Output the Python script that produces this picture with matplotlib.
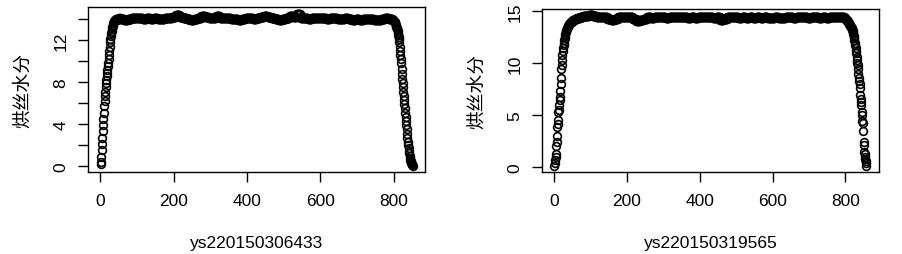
"""Two R-style scatter panels of 烘丝水分 along the batch index."""
import matplotlib
matplotlib.use("Agg")
import matplotlib.pyplot as plt
import numpy as np

plt.rcParams["font.family"] = ["Liberation Sans", "Noto Sans CJK SC", "DejaVu Sans"]

# --- data ----------------------------------------------------------------
# left batch: rise, plateau (levels held over runs of 10 points), fall
left_name = "ys220150306433"
left_rise = [0.2, 0.4, 0.9, 1.5, 2.1, 2.7, 3.3, 3.9, 4.5, 5.1, 5.7, 6.2, 6.7,
             7.1, 7.5, 7.9, 8.2, 8.6, 8.9, 9.2, 9.5, 9.8, 10.2, 10.6, 11.0,
             11.4, 11.8, 12.1, 12.4, 12.7, 12.9, 13.1, 13.3, 13.4, 13.5, 13.6,
             13.7, 13.8, 13.8, 13.9, 13.9, 13.9, 14.0, 14.0, 14.0, 14.0, 13.9,
             14.0, 14.0, 14.1, 14.0, 14.0, 14.0, 14.1, 14.1]
left_plateau = [14.0, 13.95, 14.05, 14.15, 14.1, 14.1, 14.05, 14.1, 14.0, 14.1,
                14.05, 14.0, 14.1, 14.15, 14.2, 14.45, 14.2, 14.1, 14.0, 13.9,
                14.05, 14.1, 14.3, 14.2, 14.1, 14.15, 14.3, 14.15, 14.1, 14.1,
                14.05, 14.0, 13.9, 14.0, 14.1, 14.1, 14.05, 14.1, 14.2, 14.35,
                14.2, 14.1, 14.0, 13.9, 14.0, 14.15, 14.3, 14.25, 14.55, 14.1,
                14.1, 14.05, 14.1, 14.15, 14.1, 14.1, 14.05, 14.1, 14.1, 14.05,
                14.0, 14.1, 14.0, 13.95, 14.0, 13.95, 14.0, 14.05, 14.0, 13.95,
                13.9, 14.0, 14.1, 14.05]
left_fall = [14.0, 13.95, 13.9, 13.9, 13.85, 13.8, 13.75, 13.7, 13.6, 13.5,
             13.4, 13.3, 13.2, 13.1, 12.9, 12.7, 12.5, 12.3, 12.1, 11.8, 11.4,
             11.0, 10.6, 10.2, 9.8, 9.3, 8.8, 8.3, 7.9, 7.5, 7.1, 6.7, 6.3,
             5.9, 5.5, 5.1, 4.7, 4.3, 3.9, 3.5, 3.1, 2.7, 2.3, 2.0, 1.7, 1.4,
             1.2, 1.0, 0.8, 0.6, 0.5, 0.4, 0.3, 0.2, 0.1, 0.0]

# right batch
right_name = "ys220150319565"
right_rise = [0.1, 0.4, 0.7, 1.0, 1.3, 2.1, 2.4, 3.0, 3.9, 4.2, 4.6, 5.3, 5.5,
              6.0, 6.5, 6.8, 7.3, 8.0, 8.6, 9.5, 9.8, 10.3, 10.8, 11.2, 11.5,
              11.8, 12.0, 12.2, 12.4, 12.6, 12.8, 13.0, 13.1, 13.2, 13.3, 13.4,
              13.5, 13.55, 13.6, 13.7, 13.75, 13.8, 13.85, 13.9, 13.9, 13.95,
              14.0, 14.0, 14.05, 14.1, 14.1, 14.15, 14.15, 14.2, 14.2, 14.2,
              14.25, 14.25, 14.3, 14.3, 14.3, 14.3, 14.35, 14.35, 14.35, 14.35,
              14.4, 14.4, 14.4, 14.4, 14.4, 14.45, 14.45, 14.45, 14.5, 14.5,
              14.5, 14.5, 14.5, 14.55, 14.55, 14.55, 14.6, 14.6, 14.6]
right_plateau = [14.6, 14.65, 14.55, 14.5, 14.5, 14.45, 14.3, 14.15, 14.3, 14.45,
                 14.5, 14.5, 14.45, 14.3, 14.1, 14.15, 14.3, 14.45, 14.4, 14.45,
                 14.5, 14.45, 14.4, 14.45, 14.5, 14.45, 14.5, 14.45, 14.4, 14.45,
                 14.35, 14.45, 14.5, 14.45, 14.5, 14.4, 14.45, 14.2, 14.3, 14.45,
                 14.5, 14.45, 14.4, 14.45, 14.4, 14.45, 14.4, 14.45, 14.4, 14.45,
                 14.4, 14.4, 14.45, 14.4, 14.4, 14.5, 14.45, 14.4, 14.45, 14.5,
                 14.45, 14.4, 14.5, 14.45, 14.4, 14.45, 14.4, 14.5, 14.45, 14.5,
                 14.5]
right_fall = [14.5, 14.45, 14.4, 14.4, 14.35, 14.3, 14.25, 14.2, 14.15, 14.1,
              14.05, 14.0, 13.95, 13.9, 13.8, 13.75, 13.7, 13.65, 13.6, 13.5,
              13.45, 13.4, 13.3, 13.2, 13.1, 13.0, 12.8, 12.6, 12.4, 12.2, 12.0,
              11.8, 11.5, 11.2, 11.0, 10.6, 10.3, 10.0, 9.8, 9.5, 9.0, 8.6, 8.3,
              8.0, 7.6, 7.0, 6.6, 6.3, 6.0, 5.3, 5.0, 4.5, 4.3, 3.5, 2.4, 2.2,
              1.5, 1.3, 1.0, 0.8, 0.6, 0.4, 0.1]

ylabel = "烘丝水分"
x_ticks = [0, 200, 400, 600, 800]
left_y_ticks = [0, 2, 4, 6, 8, 10, 12, 14]
left_y_labels = ["0", "", "4", "", "8", "", "12", ""]
right_y_ticks = [0, 5, 10, 15]
right_y_labels = ["0", "5", "10", "15"]

RUN = 10  # plateau level is held for this many points


def series(rise, plateau, fall):
    y = np.concatenate([rise, np.repeat(plateau, RUN), fall])
    x = np.arange(1, len(y) + 1)
    return x, y


def r_lim(v):
    lo, hi = float(np.min(v)), float(np.max(v))
    d = 0.04 * (hi - lo)
    return lo - d, hi + d


def panel(ax, x, y, name, yticks, ylabels):
    ax.plot(x, y, "o", ms=5.6, mfc="none", mec="black", mew=1.2)
    ax.set_xlim(*r_lim(x))
    ax.set_ylim(*r_lim(y))
    ax.set_xticks(x_ticks)
    ax.set_yticks(yticks)
    ax.set_yticklabels(ylabels, rotation=90, va="center")
    ax.tick_params(length=7, width=1.0, labelsize=12.5, color="black")
    ax.tick_params(axis="x", pad=8)
    ax.tick_params(axis="y", pad=7)
    for s in ax.spines.values():
        s.set_linewidth(1.0)
    ax.set_xlabel(name, fontsize=12.5, va="center")
    ax.xaxis.set_label_coords(0.5, -0.43)
    ax.set_ylabel(ylabel, fontsize=13.5, va="center",
                  family=["Noto Sans CJK SC", "DejaVu Sans"])
    ax.yaxis.set_label_coords(-0.195, 0.5)


fig = plt.figure(figsize=(9.03, 2.55), dpi=100)
ax1 = fig.add_axes([0.0975, 0.321, 0.3732, 0.646])
ax2 = fig.add_axes([0.6002, 0.320, 0.3732, 0.641])

lx, ly = series(left_rise, left_plateau, left_fall)
rx, ry = series(right_rise, right_plateau, right_fall)
panel(ax1, lx, ly, left_name, left_y_ticks, left_y_labels)
panel(ax2, rx, ry, right_name, right_y_ticks, right_y_labels)

fig.savefig("out.png", dpi=100)
plt.close(fig)
